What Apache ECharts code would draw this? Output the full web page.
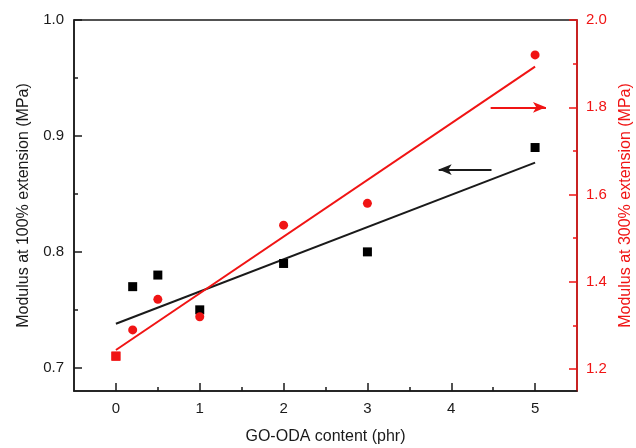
<!DOCTYPE html>
<html>
<head>
<meta charset="utf-8">
<script src="https://cdn.jsdelivr.net/npm/echarts@6/dist/echarts.min.js"></script>
<style>html,body{margin:0;padding:0;background:#fff}#c{width:636px;height:448px}</style>
</head>
<body>
<div id="c"></div>
<script>
// ---- data ----
const contents = [0, 0.2, 0.5, 1, 2, 3, 5];
const modulus100 = [0.71, 0.77, 0.78, 0.75, 0.79, 0.80, 0.89];
const modulus300 = [1.23, 1.29, 1.36, 1.32, 1.53, 1.58, 1.92];
const fitX = [0, 5];
const fit100 = [0.738, 0.877];
const fit300 = [1.244, 1.893];
const xTicks = [0, 1, 2, 3, 4, 5];
const xMinorTicks = [0.5, 1.5, 2.5, 3.5, 4.5];
const leftTicks = [0.7, 0.8, 0.9, 1.0];
const leftMinorTicks = [0.75, 0.85, 0.95];
const rightTicks = [1.2, 1.4, 1.6, 1.8, 2.0];
const rightMinorTicks = [1.3, 1.5, 1.7, 1.9];
// arrows: [fromX, toX, y]
const arrow100 = [4.48, 3.85, 0.871];
const arrow300 = [4.47, 5.13, 1.80];

const BLACK = '#1a1a1a';
const RED = '#f01414';
const FONT = 'Liberation Sans, Arial, sans-serif';

const chart = echarts.init(document.getElementById('c'), null, {renderer: 'canvas'});

function minorAxis(base, vals, color) {
  return Object.assign({
    type: 'value',
    axisLine: {show: false, onZero: false},
    axisTick: {show: true, inside: true, length: 4, customValues: vals, lineStyle: {color: color, width: 1.5}},
    axisLabel: {show: false},
    splitLine: {show: false}
  }, base);
}

const option = {
  animation: false,
  grid: {left: 74, right: 59, top: 20, bottom: 57, containLabel: false, outerBoundsMode: 'none',
         show: true, borderColor: BLACK, borderWidth: 1.5, backgroundColor: 'transparent'},
  xAxis: [
    {
      type: 'value', min: -0.5, max: 5.5, position: 'bottom',
      name: 'GO-ODA content (phr)', nameLocation: 'middle', nameGap: 38,
      nameTextStyle: {fontFamily: FONT, fontSize: 16, color: BLACK},
      axisLine: {show: true, onZero: false, lineStyle: {color: BLACK, width: 1.5}},
      axisTick: {show: true, inside: true, length: 8, customValues: xTicks, lineStyle: {color: BLACK, width: 1.5}},
      axisLabel: {customValues: xTicks, fontFamily: FONT, fontSize: 15, color: BLACK, margin: 10},
      splitLine: {show: false}
    },
    minorAxis({min: -0.5, max: 5.5, position: 'bottom'}, xMinorTicks, BLACK)
  ],
  yAxis: [
    {
      type: 'value', min: 0.68, max: 1.0, position: 'left',
      name: 'Modulus at 100% extension (MPa)', nameLocation: 'middle', nameGap: 42, nameRotate: 90,
      nameTextStyle: {fontFamily: FONT, fontSize: 16, color: BLACK},
      axisLine: {show: true, onZero: false, lineStyle: {color: BLACK, width: 1.5}},
      axisTick: {show: true, inside: true, length: 8, customValues: leftTicks, lineStyle: {color: BLACK, width: 1.5}},
      axisLabel: {customValues: leftTicks, formatter: v => v.toFixed(1), fontFamily: FONT, fontSize: 15, color: BLACK, margin: 10},
      splitLine: {show: false}
    },
    minorAxis({min: 0.68, max: 1.0, position: 'left'}, leftMinorTicks, BLACK),
    {
      type: 'value', min: 1.15, max: 2.0, position: 'right',
      name: 'Modulus at 300% extension (MPa)', nameLocation: 'middle', nameGap: 35, nameRotate: 90,
      nameTextStyle: {fontFamily: FONT, fontSize: 16, color: RED},
      axisLine: {show: true, onZero: false, lineStyle: {color: RED, width: 1.5}},
      axisTick: {show: true, inside: true, length: 8, customValues: rightTicks, lineStyle: {color: RED, width: 1.5}},
      axisLabel: {customValues: rightTicks, formatter: v => v.toFixed(1), fontFamily: FONT, fontSize: 15, color: RED, margin: 9},
      splitLine: {show: false}
    },
    minorAxis({min: 1.15, max: 2.0, position: 'right'}, rightMinorTicks, RED)
  ],
  series: [
    {
      type: 'line', xAxisIndex: 0, yAxisIndex: 0, z: 2,
      data: fitX.map((x, i) => [x, fit100[i]]),
      showSymbol: false, symbol: 'none', silent: true,
      lineStyle: {color: BLACK, width: 2},
      markLine: {
        silent: true, symbol: ['none', 'arrow'], symbolSize: [8, 13],
        label: {show: false},
        lineStyle: {color: BLACK, width: 2, type: 'solid'},
        data: [[{coord: [arrow100[0], arrow100[2]]}, {coord: [arrow100[1], arrow100[2]]}]]
      }
    },
    {
      type: 'line', xAxisIndex: 0, yAxisIndex: 2, z: 2,
      data: fitX.map((x, i) => [x, fit300[i]]),
      showSymbol: false, symbol: 'none', silent: true,
      lineStyle: {color: RED, width: 2},
      markLine: {
        silent: true, symbol: ['none', 'arrow'], symbolSize: [8, 13],
        label: {show: false},
        lineStyle: {color: RED, width: 2, type: 'solid'},
        data: [[{coord: [arrow300[0], arrow300[2]]}, {coord: [arrow300[1], arrow300[2]]}]]
      }
    },
    {
      type: 'scatter', xAxisIndex: 0, yAxisIndex: 0, z: 3,
      symbol: 'rect', symbolSize: 9, silent: true,
      itemStyle: {color: '#000', opacity: 1},
      data: contents.map((x, i) => i === 0 ? {value: [x, modulus100[i]], itemStyle: {color: RED}} : [x, modulus100[i]])
    },
    {
      type: 'scatter', xAxisIndex: 0, yAxisIndex: 2, z: 4,
      symbol: 'circle', symbolSize: 9, silent: true,
      itemStyle: {color: RED, opacity: 1},
      data: contents.map((x, i) => i === 0 ? {value: [x, modulus300[i]], symbol: 'rect'} : [x, modulus300[i]])
    }
  ]
};
chart.setOption(option);
</script>
</body>
</html>
